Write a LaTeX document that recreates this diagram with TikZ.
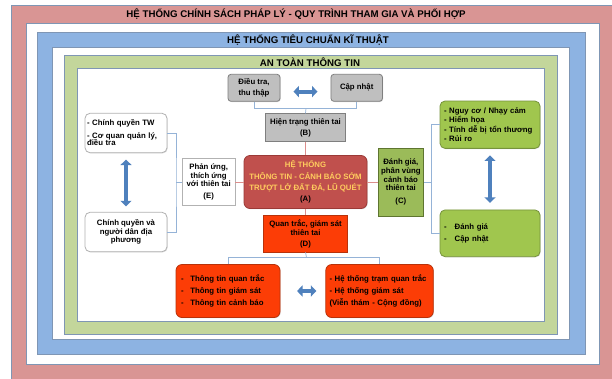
\documentclass[tikz,border=0pt]{standalone}
\usepackage{fontspec}
\setmainfont{Liberation Sans}
\usetikzlibrary{positioning}
\usetikzlibrary{calc}
\usetikzlibrary{arrows.meta}
\usetikzlibrary{shadows}

\definecolor{framepink}{HTML}{D99594}
\definecolor{frameblue}{HTML}{8DB3E2}
\definecolor{framegreen}{HTML}{C3D69B}
\definecolor{frameline}{HTML}{7F96B4}
\definecolor{boxgray}{HTML}{BFBFBF}
\definecolor{boxgrayline}{HTML}{7F7F7F}
\definecolor{warnred}{HTML}{C0504D}
\definecolor{warnredline}{HTML}{9B3A37}
\definecolor{warntext}{HTML}{FFCC5E}
\definecolor{leafgreen}{HTML}{A0C64E}
\definecolor{leafgreenline}{HTML}{76933C}
\definecolor{cgreen}{HTML}{9BBB59}
\definecolor{cgreenline}{HTML}{5E7530}
\definecolor{firered}{HTML}{FC3D06}
\definecolor{fireredline}{HTML}{B8320A}
\definecolor{linkblue}{HTML}{95B3D7}
\definecolor{linkred}{HTML}{DC8E8C}
\definecolor{arrowblue}{HTML}{4F81BD}

\newcommand\boxfont{\bfseries\fontsize{7.8}{8.6}\selectfont}
\newcommand\headfont{\bfseries\fontsize{9.7}{11}\selectfont}
\newcommand\dash[1]{\makebox[#1][l]{-}}

\tikzset{
  frame/.style={draw=frameline, line width=0.6pt},
  heading/.style={font=\headfont, inner sep=0pt},
  box/.style={font=\boxfont, align=center, inner sep=2pt, line width=0.8pt,
    drop shadow={shadow xshift=0.7pt, shadow yshift=-0.7pt, opacity=0.3}},
  graybox/.style={box, fill=boxgray, draw=boxgrayline},
  whitebox/.style={box, fill=white, draw=gray!60},
  warnbox/.style={box, rounded corners=6pt, fill=warnred, draw=warnredline, text=warntext},
  leafbox/.style={box, rounded corners=5pt, fill=leafgreen, draw=leafgreenline, align=left},
  cbox/.style={box, fill=cgreen, draw=cgreenline},
  firebox/.style={box, fill=firered, draw=fireredline},
  link/.style={draw=linkblue, line width=0.7pt},
  redlink/.style={draw=linkred, line width=0.8pt},
  bigarrow/.style={draw=arrowblue, line width=4.2pt,
    arrows={Triangle[width=11pt,length=5.5pt]-Triangle[width=11pt,length=5.5pt]}}
}

\begin{document}
\begin{tikzpicture}[x=1pt,y=-1pt]
  \useasboundingbox (0,0) rectangle (612,378);
  % Frames
  \draw[frame, fill=framepink]  (11,5.3)    rectangle (614,380);
  \draw[frame, fill=white]      (26,23.3)   rectangle (599.3,364);
  \draw[frame, fill=frameblue]  (37,32.3)   rectangle (585.3,354.7);
  \draw[frame, fill=white]      (52.7,47.7) rectangle (569.3,339.7);
  \draw[frame, fill=framegreen] (64.3,55)   rectangle (557.7,334.7);
  \draw[frame, fill=white]      (77.7,68.3) rectangle (544.7,321.3);
  \node[heading] (policy) at (296,14.3) {HỆ THỐNG CHÍNH SÁCH PHÁP LÝ - QUY TRÌNH THAM GIA VÀ PHỐI HỢP};
  \node[heading] (standard) at (308,40) {HỆ THỐNG TIÊU CHUẨN KĨ THUẬT};
  \node[heading] (security) at (310,61.7) {AN TOÀN THÔNG TIN};

  % Nodes
  \node[warnbox, minimum width=123pt, minimum height=53pt] (hethong) at (305.5,182)
    {HỆ THỐNG\\[2.7pt]THÔNG TIN - CẢNH BÁO SỚM\\[2.7pt]TRƯỢT LỞ ĐẤT ĐÁ, LŨ QUÉT\\[2.7pt]\textcolor{black}{(A)}};
  \node[graybox, minimum width=80pt, minimum height=28pt, above=13pt of hethong] (hientrang)
    {Hiện trạng thiên tai\\[2.4pt](B)};
  \node[firebox, minimum width=84pt, minimum height=36.7pt, below=6pt of hethong] (quantrac)
    {Quan trắc, giám sát\\[0.4pt]thiên tai\\[3pt](D)};
  \node[whitebox, minimum width=52.5pt, minimum height=47pt, left=8.3pt of hethong] (phanung)
    {Phản ứng,\\thích ứng\\với thiên tai\\[3.4pt](E)};
  \node[cbox, minimum width=45.5pt, minimum height=68pt, right=10.3pt of hethong] (danhgia)
    {Đánh giá,\\phân vùng\\cảnh báo\\thiên tai\\[3.8pt](C)};

  \node[graybox, rounded corners=3pt, minimum width=52pt, minimum height=27pt] (dieutra) at (254,87.8)
    {Điều tra,\\[3pt]thu thập};
  \node[graybox, rounded corners=3pt, minimum width=51.5pt, minimum height=27pt] (capnhat) at (356.7,87.8)
    {Cập nhật};

  \node[whitebox, rounded corners=5pt, align=left, minimum width=82pt, minimum height=39.4pt,
    text width=78pt] (trunguong) at (126,133)
    {- Chính quyền TW\\[3.7pt]- Cơ quan quản lý,\\[-0.9pt]điều tra};
  \node[whitebox, rounded corners=5pt, minimum width=82pt, minimum height=39.4pt] (diaphuong) at (126,232)
    {Chính quyền và\\[-0.2pt]người dân địa\\[-0.2pt]phương};

  \node[leafbox, minimum width=100pt, minimum height=47.3pt, text width=92pt, inner sep=4pt] (nguyco) at (490,124.7)
    {- Nguy cơ / Nhạy cảm\\[0.6pt]- Hiểm họa\\[0.6pt]- Tính dễ bị tổn thương\\[0.6pt]- Rủi ro};
  \node[leafbox, minimum width=100pt, minimum height=46.7pt, text width=92pt, inner sep=4pt] (capnhatdg) at (490,233.3)
    {\dash{10.7pt}Đánh giá\\[2.8pt]\dash{10.7pt}Cập nhật};

  \node[firebox, rounded corners=6pt, align=left, minimum width=104pt, minimum height=53pt,
    text width=94pt, inner sep=5pt] (thongtin) at (228,291)
    {\dash{9.3pt}Thông tin quan trắc\\[3.4pt]\dash{9.3pt}Thông tin giám sát\\[3.4pt]\dash{9.3pt}Thông tin cảnh báo};
  \node[firebox, rounded corners=6pt, align=left, minimum width=107.5pt, minimum height=53pt,
    text width=100pt, inner sep=3.75pt] (tram) at (379.5,291)
    {- Hệ thống trạm quan trắc\\[3.4pt]- Hệ thống giám sát\\[3.4pt](Viễn thám - Cộng đồng)};

  % Connectors
  \coordinate (jtop) at (306,108.3);
  \coordinate (jleft) at (176,182);
  \coordinate (jright) at (431.7,182);
  \coordinate (jbot) at (306.5,257.3);
  \draw[link] (dieutra.south) |- (jtop) -| (capnhat.south);
  \draw[link] (jtop) -- (hientrang.north);
  \draw[link] (trunguong.east) -| (jleft) |- (diaphuong.east);
  \draw[link] (jleft) -- (phanung.west);
  \draw[link] (nguyco.west) -| (jright) |- (capnhatdg.west);
  \draw[link] (danhgia.east) -- (jright);
  \draw[link] (quantrac.south) -- (jbot);
  \draw[link] (thongtin.north) |- (jbot) -| (tram.north);

  \draw[redlink] (hientrang.south) -- (hethong.north);
  \draw[redlink] (phanung.east) -- (hethong.west);
  \draw[redlink] (hethong.east) -- (danhgia.west);
  \draw[redlink] (hethong.south) -- (quantrac.north);

  % Double arrows
  \draw[bigarrow] ($(dieutra.east)!0.26!(capnhat.west)+(0,3.8)$) -- ($(dieutra.east)!0.74!(capnhat.west)+(0,3.8)$);
  \draw[bigarrow, shorten <=6.5pt, shorten >=5.6pt] (trunguong.south) -- (diaphuong.north);
  \draw[bigarrow, shorten <=6.7pt, shorten >=6.7pt] (nguyco.south) -- (capnhatdg.north);
  \draw[bigarrow] ($(thongtin.east)!0.37!(tram.west)$) -- ($(thongtin.east)!0.8!(tram.west)$);
\end{tikzpicture}
\end{document}
